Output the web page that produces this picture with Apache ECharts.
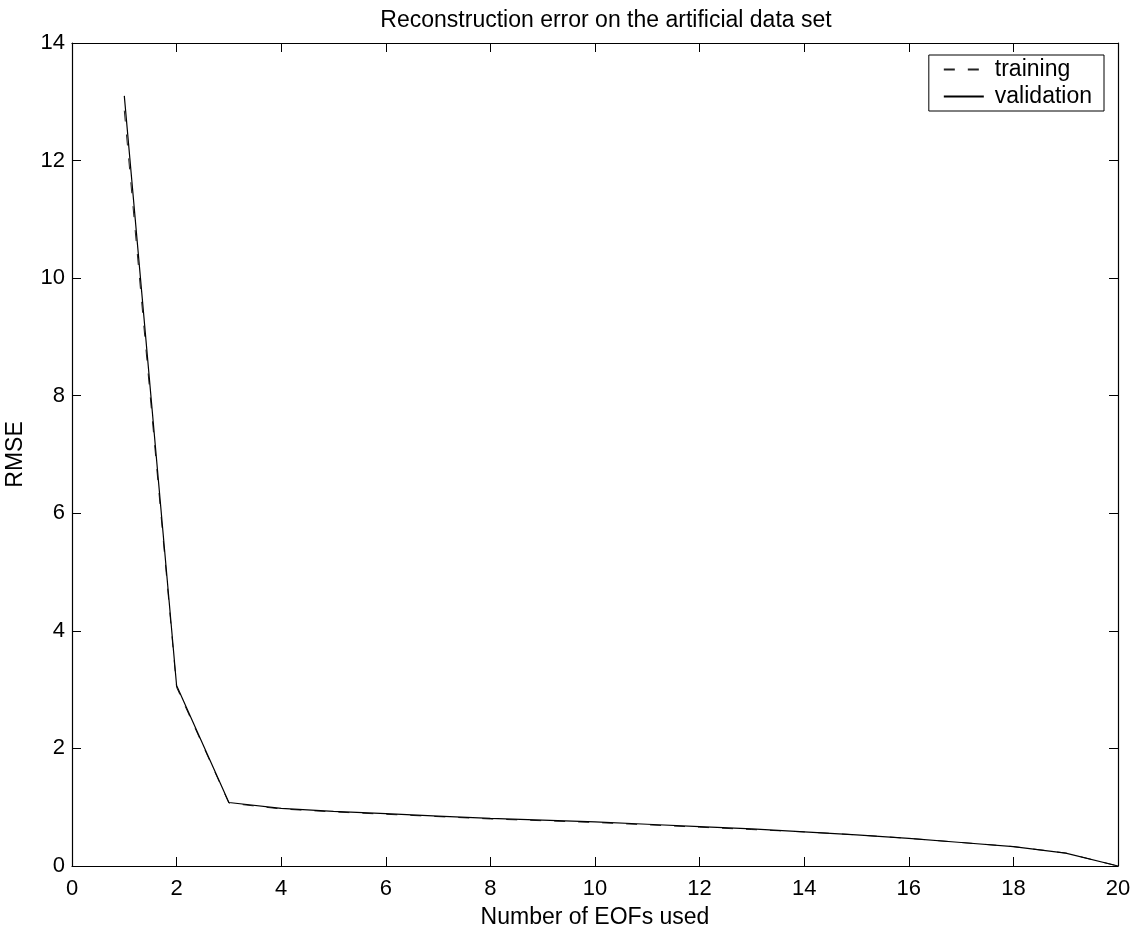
<!DOCTYPE html>
<html>
<head>
<meta charset="utf-8">
<script src="https://cdn.jsdelivr.net/npm/echarts@6/dist/echarts.min.js"></script>
<style>
  html, body { margin: 0; padding: 0; background: #fff; }
  #chart { width: 1139px; height: 927px; }
</style>
</head>
<body>
<div id="chart"></div>
<script>
// number of EOFs used (x values)
var eofs = [1, 2, 3, 4, 5, 6, 7, 8, 9, 10, 11, 12, 13, 14, 15, 16, 17, 18, 19, 20];
// RMSE
var training = [12.85, 3.04, 1.07, 0.97, 0.92, 0.88, 0.84, 0.80, 0.77, 0.74, 0.70, 0.66, 0.62, 0.58, 0.53, 0.47, 0.40, 0.33, 0.22, 0.0];
var validation = [13.1, 3.07, 1.08, 0.98, 0.93, 0.89, 0.85, 0.81, 0.78, 0.75, 0.71, 0.67, 0.63, 0.58, 0.53, 0.47, 0.40, 0.33, 0.22, 0.0];

var font = 'Liberation Sans, Arial, sans-serif';
var fsize = 22;   // tick labels
var nsize = 23;   // title, axis names, legend

function pairs(xs, ys) {
    return xs.map(function (x, i) { return [x, ys[i]]; });
}

var chart = echarts.init(document.getElementById('chart'));

var tickCfg = {show: true, inside: true, length: 9, lineStyle: {color: '#000', width: 1}};
var lineCfg = {show: true, onZero: false, lineStyle: {color: '#000', width: 1.2}};
var txt = {fontFamily: font, fontSize: nsize, color: '#000'};

chart.setOption({
    backgroundColor: '#fff',
    animation: false,
    title: {
        text: 'Reconstruction error on the artificial data set',
        left: 601, top: 4, textAlign: 'center',
        textStyle: {fontFamily: font, fontSize: nsize, fontWeight: 'normal', color: '#000'}
    },
    legend: {
        right: 35, top: 55,
        orient: 'vertical',
        itemWidth: 40, itemHeight: 14, itemGap: 4,
        padding: [3, 12, 3, 14],
        borderColor: '#000', borderWidth: 1,
        backgroundColor: '#fff',
        itemStyle: {opacity: 0},
        textStyle: {fontFamily: font, fontSize: nsize, color: '#000', padding: [0, 0, 0, 6]},
        data: ['training', 'validation']
    },
    grid: {left: 72, right: 21, top: 43, bottom: 61, outerBoundsMode: 'none', containLabel: false},
    xAxis: [{
        type: 'value', min: 0, max: 20, interval: 2,
        name: 'Number of EOFs used', nameLocation: 'middle', nameGap: 40,
        nameTextStyle: txt,
        axisLine: lineCfg, axisTick: tickCfg,
        axisLabel: {fontFamily: font, fontSize: fsize, color: '#000', margin: 12},
        splitLine: {show: false}
    }, {
        type: 'value', min: 0, max: 20, interval: 2, position: 'top',
        axisLine: lineCfg, axisTick: tickCfg,
        axisLabel: {show: false}, splitLine: {show: false}
    }],
    yAxis: [{
        type: 'value', min: 0, max: 14, interval: 2,
        name: 'RMSE', nameLocation: 'middle', nameGap: 45,
        nameTextStyle: txt,
        axisLine: lineCfg, axisTick: tickCfg,
        axisLabel: {fontFamily: font, fontSize: fsize, color: '#000', margin: 7},
        splitLine: {show: false}
    }, {
        type: 'value', min: 0, max: 14, interval: 2, position: 'right',
        axisLine: lineCfg, axisTick: tickCfg,
        axisLabel: {show: false}, splitLine: {show: false}
    }],
    series: [{
        name: 'training', type: 'line',
        data: pairs(eofs, training),
        symbol: 'none', color: '#000',
        lineStyle: {color: '#222', width: 1, type: [11, 13]}
    }, {
        name: 'validation', type: 'line',
        data: pairs(eofs, validation),
        symbol: 'none', color: '#000',
        lineStyle: {color: '#000', width: 1.2, type: 'solid'}
    }]
});
</script>
</body>
</html>
